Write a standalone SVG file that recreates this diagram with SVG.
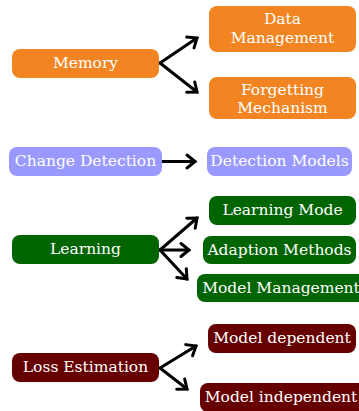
<svg xmlns="http://www.w3.org/2000/svg" width="359" height="411" viewBox="0 0 359 411">
<defs>
<marker id="arr" markerUnits="userSpaceOnUse" markerWidth="20" markerHeight="20" viewBox="-12 -10 14 20" refX="0" refY="0" orient="auto">
<path d="M-8,-6.5 L0,0 L-8,6.5" fill="none" stroke="#000" stroke-width="3" stroke-linecap="round" stroke-linejoin="miter"/>
</marker>
</defs>
<style>
text{font-family:"DejaVu Serif","Liberation Serif",serif;font-size:15.5px;fill:#fff;text-anchor:middle}
.o{fill:#F28522}
.p{fill:#9999FF}
.g{fill:#006400}
.m{fill:#660000}
.c line{stroke:#000;stroke-width:3;marker-end:url(#arr);stroke-linecap:round}
</style>
<g class="c" id="connectors">
<line x1="160" y1="63" x2="197" y2="38"/>
<line x1="160" y1="63" x2="197" y2="92"/>
<line x1="162" y1="161.5" x2="195" y2="161.5"/>
<line x1="160" y1="250" x2="197" y2="218"/>
<line x1="160" y1="250" x2="189" y2="250"/>
<line x1="160" y1="250" x2="187" y2="279"/>
<line x1="160" y1="368" x2="196" y2="346"/>
<line x1="160" y1="368" x2="187" y2="389"/>
</g>
<g id="memory"><rect class="o" x="12" y="49" width="147" height="29" rx="8"/><text x="85.5" y="68">Memory</text></g>
<g id="data-management"><rect class="o" x="209" y="6" width="147" height="46" rx="8"/><text x="282.5" y="24">Data</text><text x="282.5" y="43">Management</text></g>
<g id="forgetting-mechanism"><rect class="o" x="209" y="77" width="147" height="42" rx="8"/><text x="282.5" y="94.5">Forgetting</text><text x="282.5" y="113">Mechanism</text></g>
<g id="change-detection"><rect class="p" x="9" y="147" width="153" height="29" rx="8"/><text x="85.5" y="166">Change Detection</text></g>
<g id="detection-models"><rect class="p" x="207" y="147" width="145" height="29" rx="8"/><text x="279.5" y="166">Detection Models</text></g>
<g id="learning"><rect class="g" x="12" y="235" width="147" height="29" rx="8"/><text x="85.5" y="254">Learning</text></g>
<g id="learning-mode"><rect class="g" x="209" y="196" width="147" height="29" rx="8"/><text x="282.5" y="215">Learning Mode</text></g>
<g id="adaption-methods"><rect class="g" x="203" y="236" width="153" height="28" rx="8"/><text x="279.5" y="254.5">Adaption Methods</text></g>
<g id="model-management"><rect class="g" x="197" y="274" width="170" height="28" rx="8"/><text x="281" y="292.5">Model Management</text></g>
<g id="loss-estimation"><rect class="m" x="12" y="353" width="147" height="29" rx="8"/><text x="85.5" y="372">Loss Estimation</text></g>
<g id="model-dependent"><rect class="m" x="208" y="324" width="148" height="29" rx="8"/><text x="282" y="343">Model dependent</text></g>
<g id="model-independent"><rect class="m" x="200" y="383" width="167" height="29" rx="8"/><text x="281" y="402">Model independent</text></g>
</svg>
